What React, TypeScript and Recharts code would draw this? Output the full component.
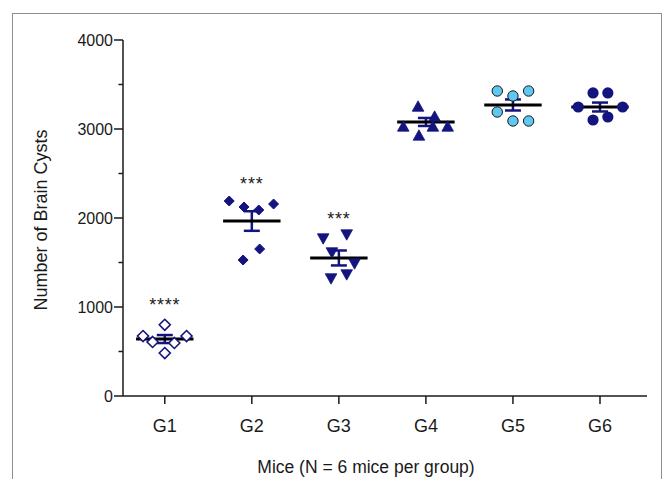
import { ScatterChart, Scatter, XAxis, YAxis, ErrorBar, Label } from "recharts";

const groups = ["G1", "G2", "G3", "G4", "G5", "G6"];

// brain cyst counts per mouse, with the horizontal scatter offset of each dot
const g1Cysts = [800, 674, 674, 607, 596, 483];
const g1Jitter = [0, -0.25, 0.25, -0.14, 0.11, 0];
const g2Cysts = [2191, 2124, 2090, 2157, 1652, 1528];
const g2Jitter = [-0.26, -0.09, 0.08, 0.25, 0.09, -0.1];
const g3Cysts = [1764, 1809, 1607, 1483, 1360, 1315];
const g3Jitter = [-0.18, 0.09, -0.08, 0.18, 0.09, -0.09];
const g4Cysts = [3258, 3146, 3034, 3034, 3034, 2933];
const g4Jitter = [-0.09, 0.1, -0.26, 0.08, 0.25, -0.08];
const g5Cysts = [3427, 3371, 3427, 3191, 3090, 3090];
const g5Jitter = [-0.18, 0, 0.18, -0.18, 0, 0.18];
const g6Cysts = [3405, 3405, 3247, 3247, 3101, 3135];
const g6Jitter = [-0.08, 0.09, -0.25, 0.26, -0.08, 0.09];

const groupMeans = [640, 1966, 1551, 3079, 3270, 3247];
const groupSem = [45, 110, 84, 45, 62, 50];

const starText = ["****", "***", "***"];
const starLevels = [1060, 2420, 2025];

const yTicks = [0, 500, 1000, 1500, 2000, 2500, 3000, 3500, 4000];
const xTicks = [1, 2, 3, 4, 5, 6];

const NAVY = "#14147e";
const SKY = "#5fc8f0";
const INK = "#1a1a1a";
const FONT = "'Liberation Sans', Arial, Helvetica, sans-serif";
const MEAN_HALF = 0.33;

const toPoints = (idx: number, values: number[], jitter: number[]) =>
  values.map((v, i) => ({ x: idx + 1 + jitter[i], y: v }));

const meanData = groupMeans.map((m, i) => ({
  x: i + 1,
  y: m,
  sem: groupSem[i],
  half: MEAN_HALF,
}));

const starData = starText.map((t, i) => ({ x: i + 1, y: starLevels[i], label: t }));

const Diamond = ({ cx, cy, filled }: any) => {
  const r = filled ? 5 : 5.5;
  return (
    <path
      d={`M${cx},${cy - r}L${cx + r},${cy}L${cx},${cy + r}L${cx - r},${cy}Z`}
      fill={filled ? NAVY : "#fff"}
      stroke={NAVY}
      strokeWidth={filled ? 1 : 1.6}
    />
  );
};

const Triangle = ({ cx, cy, down }: any) => {
  const w = 5.8;
  const h = 5.2;
  const d = down
    ? `M${cx - w},${cy - h}L${cx + w},${cy - h}L${cx},${cy + h}Z`
    : `M${cx - w},${cy + h}L${cx + w},${cy + h}L${cx},${cy - h}Z`;
  return <path d={d} fill={NAVY} stroke={NAVY} strokeWidth={0.8} />;
};

const YTick = ({ x, y, payload }: any) => {
  const major = payload.value % 1000 === 0;
  return (
    <g>
      <line x1={x - (major ? 9 : 4.5)} x2={x} y1={y} y2={y} stroke={INK} strokeWidth={1.5} />
      {major && (
        <text x={x - 10} y={y} dy="0.36em" textAnchor="end" fontSize={16} fill={INK} fontFamily={FONT}>
          {payload.value}
        </text>
      )}
    </g>
  );
};

export default function App() {
  return (
    <div style={{ position: "absolute", left: 0, top: 0, width: 665, height: 479, background: "#fff", overflow: "hidden" }}>
      <div
        style={{
          position: "absolute",
          left: 12,
          top: 13,
          width: 648,
          height: 480,
          borderTop: "1.5px solid #8e8e8e",
          borderLeft: "1.5px solid #8e8e8e",
          borderRight: "1.5px solid #8e8e8e",
        }}
      />
      <ScatterChart
        width={665}
        height={479}
        margin={{ top: 40, right: 18, bottom: 0, left: 0 }}
        style={{ position: "absolute", left: 0, top: 0, fontFamily: FONT }}
      >
        <XAxis
          type="number"
          dataKey="x"
          domain={[0.52, 6.54]}
          ticks={xTicks}
          allowDataOverflow
          height={83}
          tickSize={8}
          tickMargin={15}
          tickFormatter={(v: number) => groups[v - 1]}
          tick={{ fontSize: 18, fill: INK, fontFamily: FONT }}
          axisLine={{ stroke: INK, strokeWidth: 1.5 }}
          tickLine={{ stroke: INK, strokeWidth: 1.5 }}
        >
          <Label
            content={({ viewBox }: any) => (
              <text
                x={viewBox.x + viewBox.width / 2 - 19}
                y={viewBox.y + 77}
                textAnchor="middle"
                fontSize={17.5}
                fill={INK}
                fontFamily={FONT}
              >
                Mice (N = 6 mice per group)
              </text>
            )}
          />
        </XAxis>
        <YAxis
          type="number"
          dataKey="y"
          domain={[0, 4000]}
          ticks={yTicks}
          allowDataOverflow
          width={123}
          tickSize={0}
          tickMargin={0}
          tickLine={false}
          tick={<YTick />}
          axisLine={{ stroke: INK, strokeWidth: 1.5 }}
        >
          <Label
            content={({ viewBox }: any) => (
              <text
                transform={`translate(${viewBox.x + 47}, ${viewBox.y + viewBox.height / 2 + 2}) rotate(-90)`}
                textAnchor="middle"
                fontSize={18}
                fill={INK}
                fontFamily={FONT}
              >
                Number of Brain Cysts
              </text>
            )}
          />
        </YAxis>

        <Scatter data={toPoints(0, g1Cysts, g1Jitter)} isAnimationActive={false} shape={(p: any) => <Diamond {...p} />} />
        <Scatter data={toPoints(1, g2Cysts, g2Jitter)} isAnimationActive={false} shape={(p: any) => <Diamond {...p} filled />} />
        <Scatter data={toPoints(2, g3Cysts, g3Jitter)} isAnimationActive={false} shape={(p: any) => <Triangle {...p} down />} />
        <Scatter data={toPoints(3, g4Cysts, g4Jitter)} isAnimationActive={false} shape={(p: any) => <Triangle {...p} />} />
        <Scatter
          data={toPoints(4, g5Cysts, g5Jitter)}
          isAnimationActive={false}
          shape={(p: any) => <circle cx={p.cx} cy={p.cy} r={5.2} fill={SKY} stroke={INK} strokeWidth={1} />}
        />
        <Scatter
          data={toPoints(5, g6Cysts, g6Jitter)}
          isAnimationActive={false}
          shape={(p: any) => <circle cx={p.cx} cy={p.cy} r={5.6} fill={NAVY} />}
        />

        <Scatter data={meanData} isAnimationActive={false} shape={() => <g />}>
          <ErrorBar dataKey="sem" direction="y" width={8} stroke={NAVY} strokeWidth={2.5} />
          <ErrorBar dataKey="half" direction="x" width={0} stroke="#000" strokeWidth={3} />
        </Scatter>

        <Scatter
          data={starData}
          isAnimationActive={false}
          shape={(p: any) => (
            <text x={p.cx} y={p.cy + 9} textAnchor="middle" fontSize={18} letterSpacing={0.8} fill={INK} fontFamily={FONT}>
              {p.payload.label}
            </text>
          )}
        />
      </ScatterChart>
    </div>
  );
}
